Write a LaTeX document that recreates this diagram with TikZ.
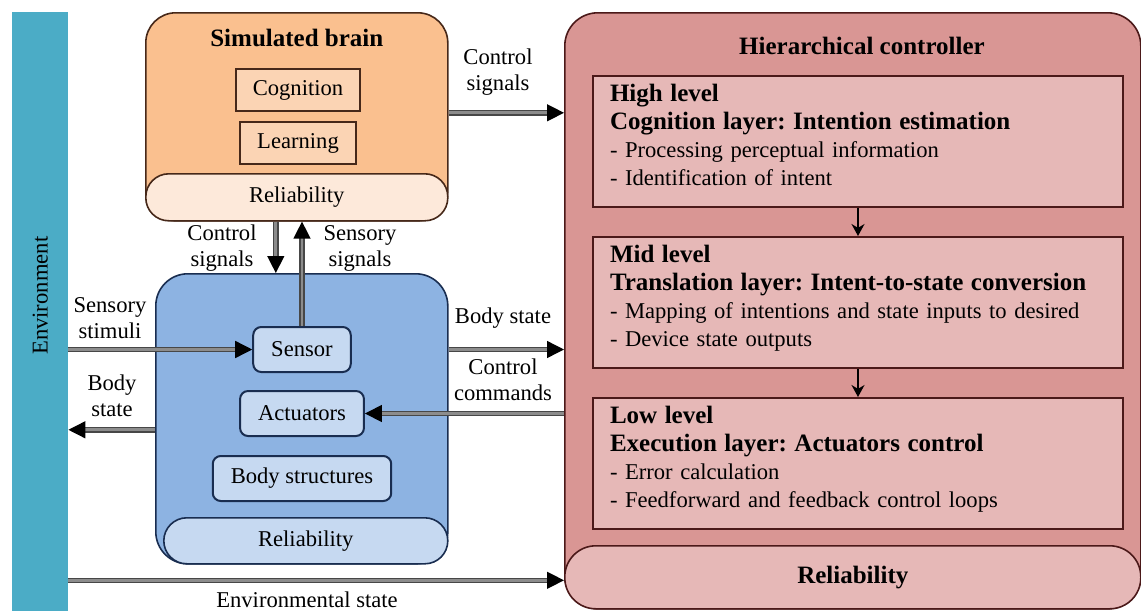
\documentclass[tikz,border=0pt]{standalone}
\usepackage{fontspec}
\setmainfont{Liberation Serif}
\usetikzlibrary{arrows.meta, positioning}

\definecolor{envteal}{RGB}{75,172,198}
\definecolor{brainfill}{RGB}{250,192,143}
\definecolor{brainpale}{RGB}{251,212,180}
\definecolor{brainrely}{RGB}{253,233,218}
\definecolor{brainedge}{RGB}{70,40,25}
\definecolor{bodyfill}{RGB}{141,179,226}
\definecolor{bodypale}{RGB}{198,217,241}
\definecolor{bodyedge}{RGB}{25,45,80}
\definecolor{ctrlfill}{RGB}{217,150,148}
\definecolor{ctrlpale}{RGB}{230,184,183}
\definecolor{ctrledge}{RGB}{75,25,25}

\newcommand{\lvhead}[1]{{\fontsize{25}{29}\selectfont\bfseries #1}}
\frenchspacing

\begin{document}
\begin{tikzpicture}[x=1pt, y=-1pt,
        font=\fontsize{22.6}{26}\selectfont,
        container/.style={rectangle, rounded corners=30pt, draw, line width=1.6pt, anchor=north west, inner sep=0pt},
        relyband/.style={rectangle, draw, line width=1.6pt, inner sep=0pt},
        brainpart/.style={rectangle, draw=brainedge, line width=2.2pt, fill=brainpale, inner xsep=17pt, minimum height=42pt},
        bodypart/.style={rectangle, rounded corners=8pt, draw=bodyedge, line width=2pt, fill=bodypale, inner xsep=18pt, minimum height=45pt},
        levelbox/.style={rectangle, draw=ctrledge, line width=2pt, fill=ctrlpale, text width=496pt, inner xsep=17pt, minimum height=131pt, align=left, font=\fontsize{22.6}{28}\selectfont, execute at end node={\rule[-13pt]{0pt}{1pt}}},
        heading/.style={font=\fontsize{25}{29}\selectfont\bfseries},
        lbl/.style={align=center},
        sig/.style={draw=black!72, line width=1.4pt, double=black!45, double distance=2.8pt, -{Triangle[length=17pt, width=17pt, black]}},
        levelarrow/.style={draw=black, line width=1.8pt, -{Stealth[length=12pt, width=13pt]}}
    ]
    \useasboundingbox (0,0) rectangle (1141,611);

    % environment
    \node[rectangle, fill=envteal, minimum width=56pt, minimum height=599pt, anchor=north west, inner sep=0pt] (env) at (12,12) {};
    \node[rotate=90] (envlabel) at ([yshift=16pt]env.center) {Environment};

    % simulated brain
    \node[container, fill=brainfill, draw=brainedge, minimum width=302pt, minimum height=208pt] (brain) at (145,12) {};
    \node[relyband, rounded corners=23pt, fill=brainrely, draw=brainedge, minimum width=302pt, minimum height=47pt, anchor=south] (brainrely) at (brain.south) {Reliability};
    \node[heading] (braintitle) at ([yshift=-26pt]brain.north) {Simulated brain};
    \node[brainpart] (cognition) at (298,90) {Cognition};
    \node[brainpart, below=9pt of cognition] (learning) {Learning};

    % body
    \node[container, rounded corners=32pt, fill=bodyfill, draw=bodyedge, minimum width=292pt, minimum height=290pt] (body) at (155,273) {};
    \node[relyband, rounded corners=23pt, fill=bodypale, draw=bodyedge, minimum width=284pt, minimum height=46pt, anchor=south east] (bodyrely) at (body.south east) {Reliability};
    \node[bodypart] (sensor) at (302,349.5) {Sensor};
    \node[bodypart, below=17pt of sensor] (actuators) {Actuators};
    \node[bodypart, below=18pt of actuators] (structures) {Body structures};

    % hierarchical controller
    \node[container, rounded corners=33pt, fill=ctrlfill, draw=ctrledge, minimum width=576pt, minimum height=596pt] (ctrl) at (564,12) {};
    \node[relyband, rounded corners=31pt, fill=ctrlpale, draw=ctrledge, minimum width=576pt, minimum height=63pt, anchor=south, heading] (ctrlrely) at (ctrl.south) {Reliability};
    \node[heading] (ctrltitle) at (862,46) {Hierarchical controller};
    \node[levelbox, anchor=north west] (high) at (592,75) {\lvhead{High level}\\ \lvhead{Cognition layer: Intention estimation}\\ - Processing perceptual information\\ - Identification of intent};
    \node[levelbox, below=28pt of high] (mid) {\lvhead{Mid level}\\ \lvhead{Translation layer: Intent-to-state conversion}\\ - Mapping of intentions and state inputs to desired\\ - Device state outputs};
    \node[levelbox, below=28pt of mid] (low) {\lvhead{Low level}\\ \lvhead{Execution layer: Actuators control}\\ - Error calculation\\ - Feedforward and feedback control loops};
    \draw[levelarrow] (high) -- (mid);
    \draw[levelarrow] (mid) -- (low);

    % signals
    \draw[sig] ([yshift=4pt]brain.east) -- ([yshift=4pt]brain.east -| ctrl.west);
    \draw[sig] ([xshift=-21pt]brain.south) -- ([xshift=-21pt]brain.south |- body.north);
    \draw[sig] (sensor.north) -- (sensor.north |- brain.south);
    \draw[sig] (env.east |- sensor.west) -- (sensor.west);
    \draw[sig] ([yshift=-11pt]body.west) -- ([yshift=-11pt]body.west -| env.east);
    \draw[sig] (body.east |- sensor.east) -- (ctrl.west |- sensor.east);
    \draw[sig] (ctrl.west |- actuators.east) -- (actuators.east);
    \draw[sig] ([yshift=-3pt]env.east |- ctrlrely.west) -- ([yshift=-3pt]ctrlrely.west);

    % labels
    \node[lbl] (lctrlsig) at (498,72) {Control\\signals};
    \node[lbl] (ldownsig) at (222,248) {Control\\signals};
    \node[lbl] (lupsig) at (360,248) {Sensory\\signals};
    \node[lbl] (lstimuli) at (110,318) {Sensory\\stimuli};
    \node[lbl] (lbodyleft) at (112,396) {Body\\state};
    \node[lbl] (lbodyright) at (503,318) {Body state};
    \node[lbl] (lcommands) at (503,380) {Control\\commands};
    \node[lbl] (lenvstate) at (307,600) {Environmental state};

\end{tikzpicture}
\end{document}
